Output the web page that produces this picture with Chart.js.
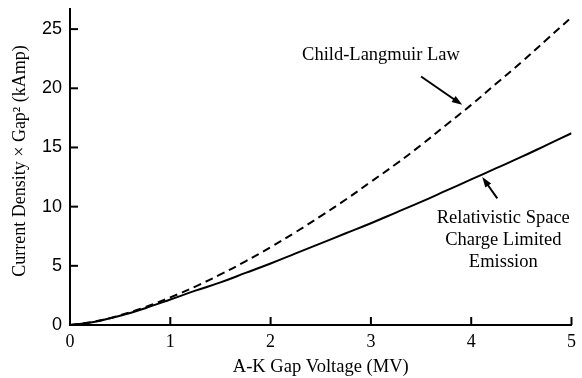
<!DOCTYPE html>
<html>
<head>
<meta charset="utf-8">
<script src="https://cdn.jsdelivr.net/npm/chart.js@4"></script>
<style>
  html, body { margin: 0; padding: 0; background: #fff; }
  #wrap { width: 582px; height: 378px; }
</style>
</head>
<body>
<div id="wrap"><canvas id="chart" width="582" height="378"></canvas></div>
<script>
// gap voltage (MV)
const voltage = [0, 0.25, 0.5, 0.75, 1, 1.25, 1.5, 1.75, 2, 2.25, 2.5, 2.75, 3, 3.25, 3.5, 3.75, 4, 4.25, 4.5, 4.75, 5];
// current density x gap^2 (kAmp)
const childLangmuir = [0, 0.3, 0.82, 1.5, 2.33, 3.25, 4.27, 5.38, 6.58, 7.85, 9.2, 10.6, 12.1, 13.6, 15.2, 16.9, 18.6, 20.4, 22.2, 24.1, 26.0];
const relativistic = [0, 0.28, 0.78, 1.42, 2.15, 2.9, 3.6, 4.4, 5.2, 6.05, 6.9, 7.75, 8.6, 9.5, 10.4, 11.35, 12.3, 13.25, 14.2, 15.2, 16.2];
const xTicks = [0, 1, 2, 3, 4, 5];
const yTicks = [0, 5, 10, 15, 20, 25];

const serif = "'Liberation Serif', 'Times New Roman', serif";
const sans = "'Liberation Sans', Arial, sans-serif";

function toPoints(ys) {
  return voltage.map((v, i) => ({ x: v, y: ys[i] }));
}

function arrow(ctx, x1, y1, x2, y2) {
  const a = Math.atan2(y2 - y1, x2 - x1);
  const len = 11;
  ctx.beginPath();
  ctx.moveTo(x1, y1);
  ctx.lineTo(x2 - Math.cos(a) * 6, y2 - Math.sin(a) * 6);
  ctx.stroke();
  ctx.beginPath();
  ctx.moveTo(x2, y2);
  ctx.lineTo(x2 - len * Math.cos(a - 0.33), y2 - len * Math.sin(a - 0.33));
  ctx.lineTo(x2 - len * Math.cos(a + 0.33), y2 - len * Math.sin(a + 0.33));
  ctx.closePath();
  ctx.fill();
}

// inner tick marks, y title and the two labels with arrows
const extras = {
  id: "extras",
  afterDraw(chart) {
    const ctx = chart.ctx;
    const xs = chart.scales.x;
    const ys = chart.scales.y;
    const area = chart.chartArea;
    ctx.save();
    ctx.strokeStyle = "#000";
    ctx.fillStyle = "#000";
    ctx.lineWidth = 2;
    xTicks.forEach((v) => {
      const px = xs.getPixelForValue(v);
      ctx.beginPath();
      ctx.moveTo(px, area.bottom);
      ctx.lineTo(px, area.bottom - 8);
      ctx.stroke();
    });
    yTicks.forEach((v) => {
      const py = ys.getPixelForValue(v);
      ctx.beginPath();
      ctx.moveTo(area.left, py);
      ctx.lineTo(area.left + 8, py);
      ctx.stroke();
    });

    // y axis title
    ctx.save();
    ctx.translate(20, 161);
    ctx.rotate(-Math.PI / 2);
    ctx.font = "18px " + serif;
    ctx.textAlign = "center";
    ctx.textBaseline = "middle";
    ctx.fillText("Current Density \u00d7 Gap\u00b2 (kAmp)", 0, 0);
    ctx.restore();

    // annotations
    ctx.font = "18.5px " + serif;
    ctx.textAlign = "center";
    ctx.textBaseline = "middle";
    ctx.fillText("Child-Langmuir Law", xs.getPixelForValue(3.1), ys.getPixelForValue(22.8));
    const rx = xs.getPixelForValue(4.32);
    ctx.fillText("Relativistic Space", rx, ys.getPixelForValue(9.07));
    ctx.fillText("Charge Limited", rx, ys.getPixelForValue(7.2));
    ctx.fillText("Emission", rx, ys.getPixelForValue(5.34));

    ctx.lineWidth = 2;
    arrow(ctx, xs.getPixelForValue(3.5), ys.getPixelForValue(21.0), xs.getPixelForValue(3.91), ys.getPixelForValue(18.6));
    arrow(ctx, xs.getPixelForValue(4.26), ys.getPixelForValue(10.7), xs.getPixelForValue(4.11), ys.getPixelForValue(12.5));
    ctx.restore();
  },
};

new Chart(document.getElementById("chart"), {
  type: "line",
  data: {
    datasets: [
      {
        label: "Child-Langmuir Law",
        data: toPoints(childLangmuir),
        borderColor: "#000",
        borderWidth: 2,
        borderDash: [8, 5],
        pointRadius: 0,
        tension: 0.4,
        fill: false,
      },
      {
        label: "Relativistic Space Charge Limited Emission",
        data: toPoints(relativistic),
        borderColor: "#000",
        borderWidth: 2,
        pointRadius: 0,
        tension: 0.4,
        fill: false,
      },
    ],
  },
  options: {
    responsive: false,
    animation: false,
    layout: { padding: { top: 9, right: 10, left: 0, bottom: 0 } },
    plugins: { legend: { display: false }, tooltip: { enabled: false } },
    scales: {
      x: {
        type: "linear",
        min: 0,
        max: 5,
        afterBuildTicks: (s) => { s.ticks = xTicks.map((v) => ({ value: v })); },
        afterFit: (s) => { s.height = 53; },
        grid: { drawOnChartArea: false, drawTicks: false },
        border: { display: true, color: "#000", width: 2 },
        ticks: { color: "#000", font: { family: serif, size: 18 }, padding: 6 },
        title: { display: true, text: "A-K Gap Voltage (MV)", color: "#000", font: { family: serif, size: 18.5 }, padding: { top: 1, bottom: 0 } },
      },
      y: {
        type: "linear",
        min: 0,
        max: 26.7,
        afterBuildTicks: (s) => { s.ticks = yTicks.map((v) => ({ value: v })); },
        afterFit: (s) => { s.width = 70; s.paddingTop = 0; s.paddingBottom = 0; },
        grid: { drawOnChartArea: false, drawTicks: false },
        border: { display: true, color: "#000", width: 2 },
        ticks: { color: "#000", font: { family: sans, size: 18 }, padding: 8 },
      },
    },
  },
  plugins: [extras],
});
</script>
</body>
</html>
